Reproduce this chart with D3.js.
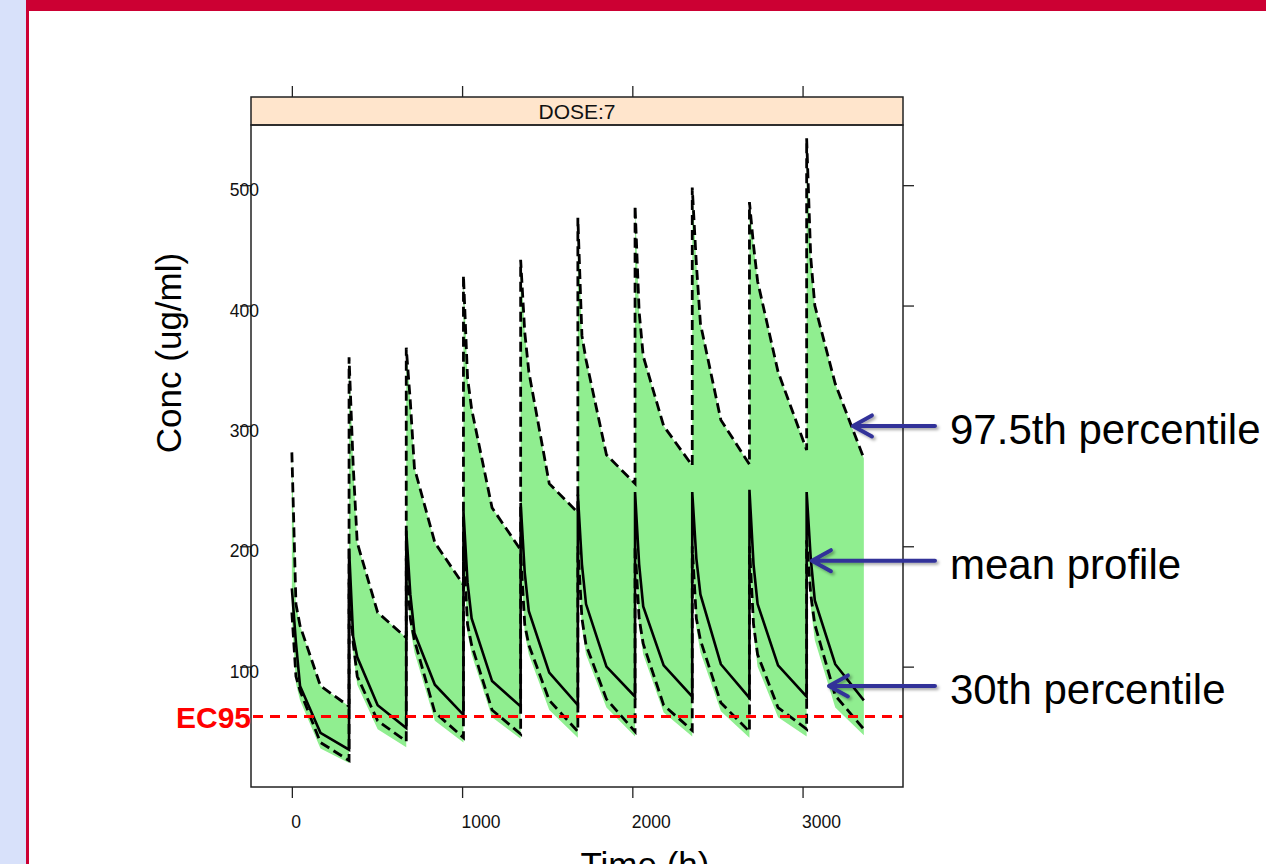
<!DOCTYPE html>
<html>
<head>
<meta charset="utf-8">
<script src="https://cdn.jsdelivr.net/npm/d3@7"></script>
<style>
  body { margin: 0; background: #fff; }
  svg { display: block; font-family: "Liberation Sans", Arial, sans-serif; }
</style>
</head>
<body>
<div id="chart"></div>
<script>
// Simulated concentration profile, DOSE:7, dosing every 336 h
const panelTitle = 'DOSE:7';
const xLabel = 'Time (h)';
const yLabel = 'Conc (ug/ml)';
const xTicks = [0, 1000, 2000, 3000];
const yTicks = [100, 200, 300, 400, 500];
const ec95 = 58.5;

const time = [
  0, 24, 48, 168, 336, 336, 360, 384, 504, 672,
  672, 696, 720, 840, 1008, 1008, 1032, 1056, 1176, 1344,
  1344, 1368, 1392, 1512, 1680, 1680, 1704, 1728, 1848, 2016,
  2016, 2040, 2064, 2184, 2352, 2352, 2376, 2400, 2520, 2688,
  2688, 2712, 2736, 2856, 3024, 3024, 3048, 3072, 3192, 3360
];
const p975 = [
  278, 152, 134, 84, 67, 357, 268, 203, 145, 124,
  365, 320, 265, 203, 168, 425, 340, 314, 232, 197,
  438, 378, 345, 252, 228, 473, 375, 355, 276, 252,
  483, 395, 358, 300, 267, 498, 435, 385, 305, 268,
  486, 450, 420, 345, 280, 539, 440, 400, 335, 273
];
const meanConc = [
  165, 120, 84, 45, 31, 198, 125, 108, 68, 49,
  213, 160, 128, 85, 60, 229, 170, 140, 88, 67,
  236, 178, 146, 95, 68, 243, 185, 152, 100, 75,
  245, 185, 150, 101, 75, 245, 190, 160, 102, 74,
  247, 185, 152, 101, 75, 245, 190, 155, 102, 72
];
const p30 = [
  145, 92, 80, 37, 22, 170, 120, 92, 55, 38,
  190, 140, 122, 62, 41, 200, 135, 118, 64, 44,
  195, 135, 118, 72, 46, 200, 140, 118, 73, 46,
  200, 140, 119, 68, 47, 200, 140, 122, 70, 46,
  200, 135, 110, 66, 48, 205, 160, 135, 76, 48
];
// lower edge of the shaded band
const bandLow = [
  140, 86, 72, 32, 20, 165, 112, 85, 48, 33,
  185, 132, 112, 55, 37, 195, 128, 110, 58, 40,
  190, 128, 110, 64, 41, 195, 132, 110, 66, 42,
  195, 132, 110, 62, 42, 195, 132, 112, 63, 41,
  195, 128, 100, 58, 42, 200, 150, 122, 66, 43
];

const annoLabels = ['97.5th percentile', 'mean profile', '30th percentile'];
const annoTime = [3296, 3055, 3155];
const annoConc = [300, 188, 84];

const W = 1266, H = 864;
const panel = { left: 251, right: 903, top: 125, bottom: 787, stripTop: 97 };

const svg = d3.select('#chart').append('svg')
  .attr('width', W).attr('height', H);

// slide decoration
svg.append('rect').attr('width', W).attr('height', H).attr('fill', '#fff');
svg.append('rect').attr('x', 0).attr('y', 0).attr('width', 26).attr('height', H).attr('fill', '#d8e1fa');
svg.append('rect').attr('x', 26).attr('y', 0).attr('width', W - 26).attr('height', 11).attr('fill', '#cc0033');
svg.append('rect').attr('x', 26).attr('y', 0).attr('width', 3).attr('height', H).attr('fill', '#cc0033');

const defs = svg.append('defs');
defs.append('clipPath').attr('id', 'clip')
  .append('rect')
  .attr('x', panel.left).attr('y', panel.top)
  .attr('width', panel.right - panel.left).attr('height', panel.bottom - panel.top);
const shadow = defs.append('filter').attr('id', 'shadow')
  .attr('x', '-20%').attr('y', '-50%').attr('width', '140%').attr('height', '200%');
shadow.append('feDropShadow')
  .attr('dx', 2).attr('dy', 2).attr('stdDeviation', 1.5)
  .attr('flood-color', '#000').attr('flood-opacity', 0.35);

const x = d3.scaleLinear().domain([-240, 3590]).range([panel.left, panel.right]);
const y = d3.scaleLinear().domain([0, 550]).range([panel.bottom, panel.top]);

const rows = time.map((t, i) => ({ t, hi: p975[i], mean: meanConc[i], lo: p30[i], band: bandLow[i] }));

const plot = svg.append('g').attr('clip-path', 'url(#clip)');

plot.append('path')
  .datum(rows)
  .attr('fill', '#90ee90')
  .attr('d', d3.area().x(d => x(d.t)).y0(d => y(d.band)).y1(d => y(d.hi)));

const line = key => d3.line().x(d => x(d.t)).y(d => y(d[key]));

plot.append('path').datum(rows)
  .attr('fill', 'none').attr('stroke', '#000').attr('stroke-width', 2.8)
  .attr('stroke-dasharray', '10,5').attr('d', line('hi'));
plot.append('path').datum(rows)
  .attr('fill', 'none').attr('stroke', '#000').attr('stroke-width', 2.8)
  .attr('stroke-dasharray', '10,5').attr('d', line('lo'));
plot.append('path').datum(rows)
  .attr('fill', 'none').attr('stroke', '#000').attr('stroke-width', 2.6)
  .attr('d', line('mean'));

plot.append('line')
  .attr('x1', panel.left + 2).attr('x2', panel.right)
  .attr('y1', y(ec95)).attr('y2', y(ec95))
  .attr('stroke', '#ff0000').attr('stroke-width', 3)
  .attr('stroke-dasharray', '10,7');

// panel frame and strip
svg.append('rect')
  .attr('x', panel.left).attr('y', panel.stripTop)
  .attr('width', panel.right - panel.left).attr('height', panel.top - panel.stripTop)
  .attr('fill', '#ffe5cc').attr('stroke', '#222').attr('stroke-width', 1.5);
svg.append('text')
  .attr('x', (panel.left + panel.right) / 2).attr('y', 118.5)
  .attr('text-anchor', 'middle').attr('font-size', 21).attr('fill', '#111')
  .text(panelTitle);
svg.append('rect')
  .attr('x', panel.left).attr('y', panel.top)
  .attr('width', panel.right - panel.left).attr('height', panel.bottom - panel.top)
  .attr('fill', 'none').attr('stroke', '#222').attr('stroke-width', 1.5);

// axes
const styleAxis = g => {
  g.select('.domain').remove();
  g.selectAll('.tick line').attr('stroke', '#222').attr('stroke-width', 1.3);
  g.selectAll('text').attr('fill', '#111').attr('font-size', 17.5).attr('font-family', null);
};

svg.append('g')
  .attr('transform', `translate(0,${panel.bottom})`)
  .call(d3.axisBottom(x).tickValues(xTicks).tickSize(11).tickFormat(d3.format('d')))
  .call(styleAxis)
  .call(g => g.selectAll('text').attr('text-anchor', 'start').attr('x', -1).attr('y', 29).attr('dy', '0.71em'));

svg.append('g')
  .attr('transform', `translate(0,${panel.stripTop})`)
  .call(d3.axisTop(x).tickValues(xTicks).tickSize(11).tickFormat(''))
  .call(styleAxis);

svg.append('g')
  .attr('transform', `translate(${panel.left},0)`)
  .call(d3.axisLeft(y).tickValues(yTicks).tickSize(11).tickFormat(d3.format('d')))
  .call(styleAxis)
  .call(g => g.selectAll('text').attr('text-anchor', 'end').attr('x', 8).attr('y', 4.5).attr('dy', '0.35em'));

svg.append('g')
  .attr('transform', `translate(${panel.right},0)`)
  .call(d3.axisRight(y).tickValues(yTicks).tickSize(11).tickFormat(''))
  .call(styleAxis);

// axis titles
svg.append('text')
  .attr('transform', 'translate(181,353) rotate(-90)')
  .attr('text-anchor', 'middle').attr('font-size', 35).attr('fill', '#000')
  .text(yLabel);
svg.append('text')
  .attr('x', 645).attr('y', 877)
  .attr('text-anchor', 'middle').attr('font-size', 35).attr('fill', '#000')
  .text(xLabel);

// EC95 label
svg.append('text')
  .attr('x', panel.left).attr('y', y(ec95) + 11)
  .attr('text-anchor', 'end').attr('font-size', 30).attr('font-weight', 'bold')
  .attr('fill', '#ff0000')
  .text('EC95');

// annotation arrows
const tailX = 935, textX = 950;
const anno = svg.append('g');
annoLabels.forEach((label, i) => {
  const tx = x(annoTime[i]), ty = y(annoConc[i]);
  anno.append('path')
    .attr('d', `M${tailX},${ty}L${tx},${ty}M${tx + 19},${ty - 10.5}L${tx},${ty}L${tx + 19},${ty + 10.5}`)
    .attr('fill', 'none').attr('stroke', '#333399').attr('stroke-width', 4)
    .attr('stroke-linecap', 'round').attr('stroke-linejoin', 'round')
    .attr('filter', 'url(#shadow)');
  anno.append('text')
    .attr('x', textX).attr('y', ty + 18)
    .attr('font-size', 42).attr('fill', '#000')
    .text(label);
});
</script>
</body>
</html>
